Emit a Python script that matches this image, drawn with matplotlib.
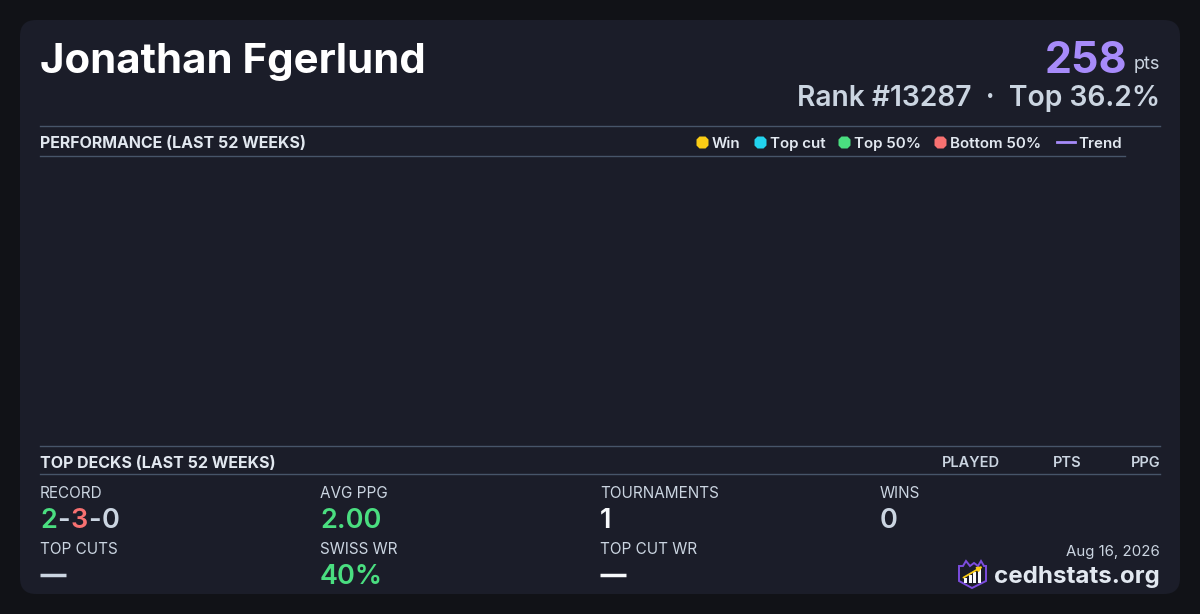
import matplotlib.pyplot as plt
from matplotlib.patches import FancyBboxPatch, Polygon, Rectangle

plt.rcParams['font.family'] = ['Inter', 'DejaVu Sans']

# ---- data ----
player_name = "Jonathan Fgerlund"
points = 258
rank = 13287
top_pct = 36.2

legend_labels = ["Win", "Top cut", "Top 50%", "Bottom 50%"]
legend_colors = ["#facc15", "#22d3ee", "#4ade80", "#f87171"]
trend_label = "Trend"
trend_color = "#a78bfa"

deck_columns = ["PLAYED", "PTS", "PPG"]

record = [2, 3, 0]
record_colors = ["#4ade80", "#f87171", "#cbd5e1"]
stat_labels = ["AVG PPG", "TOURNAMENTS", "WINS", "TOP CUTS", "SWISS WR", "TOP CUT WR"]
stat_values = ["2.00", "1", "0", "\u2014", "40%", "\u2014"]
stat_colors = ["#4ade80", "#f8fafc", "#cbd5e1", "#cbd5e1", "#4ade80", "#f8fafc"]
date_text = "Aug 16, 2026"
site = "cedhstats.org"

# ---- colours ----
bg = "#111217"
card = "#1b1d29"
rule = "#475569"
light = "#e2e8f0"
muted = "#cbd5e1"

fig = plt.figure(figsize=(12, 6.14), dpi=100, facecolor=bg)
ax = fig.add_axes([0, 0, 1, 1])
ax.set_xlim(0, 1200)
ax.set_ylim(614, 0)
ax.axis('off')
ax.set_facecolor(bg)

ax.add_patch(FancyBboxPatch((20, 20), 1160, 574, boxstyle="round,pad=0,rounding_size=16",
                            facecolor=card, edgecolor='none'))

fig.canvas.draw()
r = fig.canvas.get_renderer()

def width(t):
    return t.get_window_extent(r).width

# header
ax.text(40, 73, player_name, color="#ffffff", fontsize=30.2, fontweight='bold',
        ha='left', va='baseline')
pts_t = ax.text(1160, 69, "pts", color=muted, fontsize=13, ha='right', va='baseline')
ax.text(1160 - width(pts_t) - 6, 73, str(points), color="#a78bfa", fontsize=31,
        fontweight='bold', ha='right', va='baseline')
ax.text(1160, 106, f"Rank #{rank}  \u00b7  Top {top_pct}%", color=muted, fontsize=20.3,
        fontweight='semibold', ha='right', va='baseline')

# performance section
ax.plot([40, 1160], [126, 126], color=rule, lw=1)
ax.plot([40, 1125], [156, 156], color=rule, lw=1)
ax.text(40, 148, "PERFORMANCE (LAST 52 WEEKS)", color=light, fontsize=11.5,
        fontweight='bold', ha='left', va='baseline')

x = 702
for lab, col in zip(legend_labels, legend_colors):
    ax.plot(x, 142, marker='8', ms=9.5, color=col, mec='none')
    t = ax.text(x + 10, 148, lab, color=light, fontsize=10.9, fontweight='semibold',
                ha='left', va='baseline')
    x = x + 10 + width(t) + 19
x -= 3
ax.plot([x, x + 18], [142, 142], color=trend_color, lw=2)
ax.text(x + 21, 148, trend_label, color=light, fontsize=10.9, fontweight='semibold',
        ha='left', va='baseline')

# empty performance plot area
perf = fig.add_axes([40 / 1200, 1 - 446 / 614, 1085 / 1200, 290 / 614])
perf.set_facecolor('none')
perf.set_xticks([])
perf.set_yticks([])
for s in perf.spines.values():
    s.set_visible(False)

# top decks section
ax.plot([40, 1160], [446, 446], color=rule, lw=1)
ax.plot([40, 1160], [474, 474], color=rule, lw=1)
ax.text(40, 468, "TOP DECKS (LAST 52 WEEKS)", color=light, fontsize=11.5,
        fontweight='bold', ha='left', va='baseline')
for lab, xr in zip(deck_columns, [1000, 1082, 1160]):
    ax.text(xr, 467, lab, color=muted, fontsize=10.5, fontweight='semibold',
            ha='right', va='baseline')

# stats
ax.text(40, 498, "RECORD", color=muted, fontsize=11, ha='left', va='baseline')
pieces = [(str(record[0]), record_colors[0]), ("-", muted), (str(record[1]), record_colors[1]),
          ("-", muted), (str(record[2]), record_colors[2])]
x = 40
for s, col in pieces:
    t = ax.text(x, 528, s, color=col, fontsize=19.5, fontweight='semibold',
                ha='left', va='baseline')
    x += width(t) + 0.5

pos = [(320, 0), (600, 0), (880, 0), (40, 1), (320, 1), (600, 1)]
for (px, row), lab, val, col in zip(pos, stat_labels, stat_values, stat_colors):
    ly = 498 + row * 56
    ax.text(px, ly, lab, color=muted, fontsize=11, ha='left', va='baseline')
    if val == "\u2014":
        ax.plot([px, px + 26], [ly + 21, ly + 21], color=col, lw=2.5, solid_capstyle='butt')
    else:
        ax.text(px, ly + 30, val, color=col, fontsize=19.5, fontweight='semibold',
                ha='left', va='baseline')

# footer
ax.text(1160, 556, date_text, color=muted, fontsize=10.8, ha='right', va='baseline')
ax.text(1160, 583, site, color=light, fontsize=17.4, fontweight='bold',
        ha='right', va='baseline')

# logo
shield = [(959, 566), (963, 566), (966, 561), (970, 566), (974, 563), (978, 566),
          (981, 561), (984, 566), (986, 566), (986, 581), (972, 588), (959, 581)]
ax.add_patch(Polygon(shield, closed=True, facecolor='#1b1d29', edgecolor='#7c4dde', lw=1.4))
for bx, bh in zip([964, 968.5, 973, 977.5], [5, 8, 11, 14]):
    ax.add_patch(Rectangle((bx, 583 - bh), 3, bh, facecolor='#f8fafc', edgecolor='none'))
ax.annotate("", xy=(985, 565), xytext=(961, 579),
            arrowprops=dict(arrowstyle='-|>', color='#facc15', lw=1.3, mutation_scale=7))

fig.savefig("out.png", dpi=100, facecolor=bg)
